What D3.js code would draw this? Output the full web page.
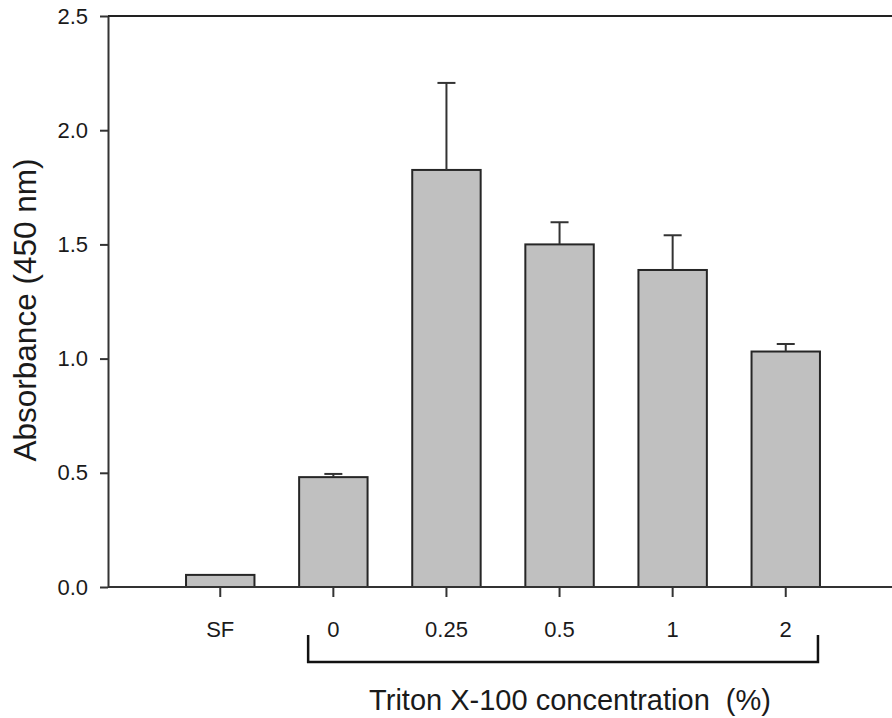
<!DOCTYPE html>
<html>
<head>
<meta charset="utf-8">
<script src="https://cdn.jsdelivr.net/npm/d3@7"></script>
<style>
  body { margin: 0; background: #fff; }
  text { font-family: "Liberation Sans", Arial, sans-serif; fill: #1a1a1a; }
</style>
</head>
<body>
<div id="chart"></div>
<script>
// data
const categories = ['SF', '0', '0.25', '0.5', '1', '2'];
const absorbance = [0.053, 0.481, 1.826, 1.500, 1.388, 1.031];
const errorUp = [0, 0.014, 0.381, 0.097, 0.152, 0.033];
const yTicks = [0, 0.5, 1.0, 1.5, 2.0, 2.5];
const tritonGroup = ['0', '0.25', '0.5', '1', '2'];

const width = 892;
const height = 718;
const plot = { left: 108, top: 16, bottom: 587, right: 898 };

const svg = d3.select('#chart')
  .append('svg')
  .attr('width', width)
  .attr('height', height);

const x = d3.scaleBand()
  .domain(categories)
  .range([plot.left, plot.right])
  .paddingInner(0.395)
  .paddingOuter(0.69);

const y = d3.scaleLinear()
  .domain([0, 2.5])
  .range([plot.bottom, plot.top]);

// bars
svg.append('g')
  .selectAll('rect')
  .data(categories)
  .join('rect')
  .attr('x', d => x(d))
  .attr('y', (d, i) => y(absorbance[i]))
  .attr('width', x.bandwidth())
  .attr('height', (d, i) => y(0) - y(absorbance[i]))
  .attr('fill', '#c0c0c0')
  .attr('stroke', '#262626')
  .attr('stroke-width', 2);

// upper error bars
const err = svg.append('g')
  .attr('stroke', '#333')
  .attr('stroke-width', 2)
  .selectAll('g')
  .data(categories.filter((d, i) => errorUp[i] > 0))
  .join('g');

err.append('line')
  .attr('x1', d => x(d) + x.bandwidth() / 2)
  .attr('x2', d => x(d) + x.bandwidth() / 2)
  .attr('y1', d => y(absorbance[categories.indexOf(d)]))
  .attr('y2', d => {
    const i = categories.indexOf(d);
    return y(absorbance[i] + errorUp[i]);
  });

err.append('line')
  .attr('x1', d => x(d) + x.bandwidth() / 2 - 9)
  .attr('x2', d => x(d) + x.bandwidth() / 2 + 9)
  .attr('y1', d => {
    const i = categories.indexOf(d);
    return y(absorbance[i] + errorUp[i]);
  })
  .attr('y2', d => {
    const i = categories.indexOf(d);
    return y(absorbance[i] + errorUp[i]);
  });

// y axis
const yAxis = svg.append('g')
  .attr('transform', `translate(${plot.left},0)`)
  .call(d3.axisLeft(y).tickValues(yTicks).tickFormat(d3.format('.1f')).tickSize(8).tickSizeOuter(0).tickPadding(12));
yAxis.select('.domain').attr('stroke', '#333').attr('stroke-width', 2);
yAxis.selectAll('.tick line').attr('stroke', '#333').attr('stroke-width', 2);
yAxis.selectAll('text').style('font-size', '22px').attr('fill', '#1a1a1a');

// x axis
const xAxis = svg.append('g')
  .attr('transform', `translate(0,${plot.bottom})`)
  .call(d3.axisBottom(x).tickSize(10).tickSizeOuter(0).tickPadding(24));
xAxis.select('.domain').remove();
xAxis.selectAll('.tick line').attr('stroke', '#333').attr('stroke-width', 2);
xAxis.selectAll('text').style('font-size', '22px').attr('fill', '#1a1a1a');

// baseline and top frame line
svg.append('line')
  .attr('x1', plot.left).attr('x2', width)
  .attr('y1', plot.bottom).attr('y2', plot.bottom)
  .attr('stroke', '#333').attr('stroke-width', 2);
svg.append('line')
  .attr('x1', plot.left).attr('x2', width)
  .attr('y1', plot.top).attr('y2', plot.top)
  .attr('stroke', '#222').attr('stroke-width', 2);

// bracket under the Triton concentrations
const bLeft = x(tritonGroup[0]) + 9;
const bRight = x(tritonGroup[tritonGroup.length - 1]) + x.bandwidth() - 2;
svg.append('path')
  .attr('d', `M${bLeft},635 V662 H${bRight} V635`)
  .attr('fill', 'none')
  .attr('stroke', '#111')
  .attr('stroke-width', 2.5);

// axis titles
svg.append('text')
  .attr('x', (bLeft + bRight) / 2 + 7)
  .attr('y', 710)
  .attr('text-anchor', 'middle')
  .style('font-size', '29px')
  .style('white-space', 'pre')
  .text('Triton X-100 concentration  (%)');

svg.append('text')
  .attr('transform', 'translate(36,310) rotate(-90)')
  .attr('text-anchor', 'middle')
  .style('font-size', '31.5px')
  .text('Absorbance (450 nm)');
</script>
</body>
</html>
